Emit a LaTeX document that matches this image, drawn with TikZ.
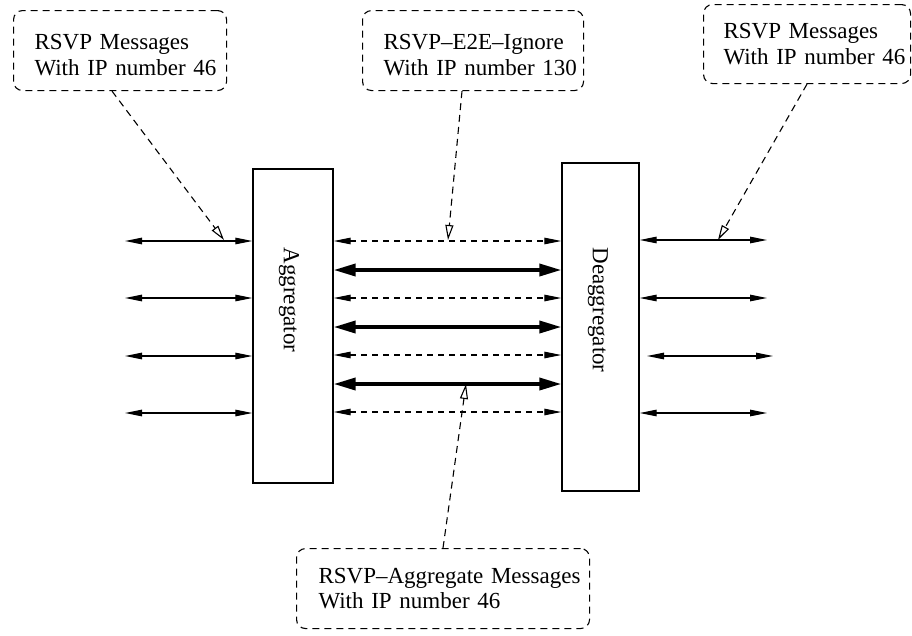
\documentclass[tikz,border=0pt]{standalone}
\usepackage{fontspec}
\setmainfont{Liberation Serif}
\usetikzlibrary{arrows.meta}

\newcommand{\firststrut}{\rule{0pt}{24pt}}

\begin{document}
\begin{tikzpicture}[x=1pt,y=-1pt,
  font=\fontsize{23}{25.5}\selectfont,
  unit/.style={draw, line width=1.3pt, minimum width=#1, inner sep=0pt},
  note/.style={draw, dashed, dash pattern=on 7pt off 5pt, line width=1.1pt,
    rounded corners=9pt, align=left, inner xsep=21pt, inner ysep=0pt,
    anchor=north west},
  plain/.style={line width=1.2pt, {Triangle[length=17pt,width=6.5pt]}-{Triangle[length=17pt,width=6.5pt]}},
  thin dash/.style={plain, dash pattern=on 6pt off 5pt},
  heavy/.style={line width=3.6pt, {Triangle[length=22pt,width=12pt]}-{Triangle[length=22pt,width=12pt]}},
  callout/.style={line width=1.1pt, dash pattern=on 7pt off 5pt,
    -{Triangle[open,length=15pt,width=8pt]}}]

\useasboundingbox (0,0) rectangle (912,635);

% the two edge routers
\node[unit=80pt, minimum height=314pt] (agg) at (293,326) {};
\node[unit=77pt, minimum height=328pt] (deag) at (600.5,327) {};
\node[rotate=-90] (agglabel) at (289,300) {Aggregator};
\node[rotate=-90] (deaglabel) at (598,310) {Deaggregator};

% end-to-end flows entering and leaving the aggregation region
\foreach \i/\y in {1/241,2/298,3/356,4/413}{
  \coordinate (in\i) at (125,\y);
  \draw[plain] (in\i) -- (in\i -| agg.west);
}
\foreach \i/\y/\xa/\xb in {1/240/639/767,2/298/639/767,3/356/647/773,4/413/639/767}{
  \coordinate (outa\i) at (\xa,\y);
  \coordinate (outb\i) at (\xb,\y);
}
\draw[plain] (outa1 -| deag.east) -- (outb1);
\draw[plain] (outa2 -| deag.east) -- (outb2);
\draw[plain] (outa3) -- (outb3);
\draw[plain] (outa4 -| deag.east) -- (outb4);

% inside the region: E2E-Ignore messages (dashed) and aggregate messages (heavy)
\foreach \i/\y in {1/241,2/298,3/355,4/412}{
  \coordinate (m\i) at (450,\y);
  \draw[thin dash] (m\i -| agg.east) -- (m\i -| deag.west);
}
\foreach \i/\y in {1/270,2/327,3/384}{
  \coordinate (h\i) at (450,\y);
  \draw[heavy] (h\i -| agg.east) -- (h\i -| deag.west);
}

% explanatory notes
\node[note, text width=171pt, minimum height=80pt] (tl) at (13,10)
  {\firststrut\mbox{RSVP Messages}\\\mbox{With IP number 46}};
\node[note, text width=179pt, minimum height=80pt, inner xsep=21pt] (tm) at (362,10)
  {\firststrut\mbox{RSVP--E2E--Ignore}\\\mbox{With IP number 130}};
\node[note, text width=167pt, minimum height=79pt, inner xsep=20pt] (tr) at (703,4)
  {\mbox{RSVP Messages}\\\mbox{With IP number 46}};
\node[note, text width=249pt, minimum height=80pt, inner xsep=22pt] (bm) at (296,548)
  {\mbox{RSVP--Aggregate Messages}\\\mbox{With IP number 46}};

% pointers from the notes to the flows they describe
\coordinate (p1) at (224,240);
\coordinate (p2) at (448,240);
\coordinate (p3) at (718,240);
\coordinate (p4) at (466,384);
\draw[callout] ([xshift=99pt]tl.south west) -- (p1);
\draw[callout] ([xshift=100pt]tm.south west) -- (p2);
\draw[callout] ([xshift=104pt]tr.south west) -- (p3);
\draw[callout] ([xshift=147pt]bm.north west) -- (p4);
\end{tikzpicture}
\end{document}
